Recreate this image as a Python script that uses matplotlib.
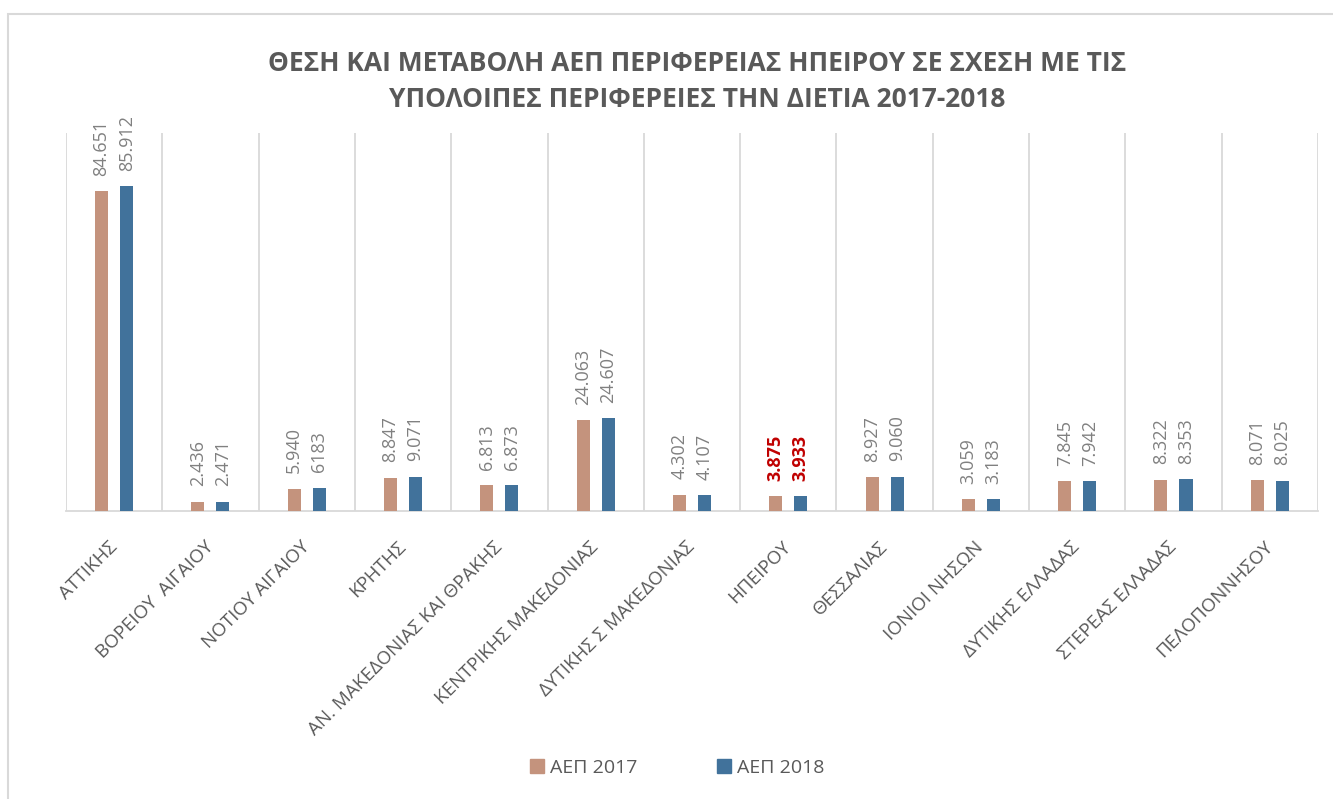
import numpy as np
import matplotlib
matplotlib.use("Agg")
import matplotlib.pyplot as plt
from matplotlib.patches import Patch, Rectangle

plt.rcParams['font.family'] = ['Open Sans', 'DejaVu Sans']

regions = ["ΑΤΤΙΚΗΣ", "ΒΟΡΕΙΟΥ  ΑΙΓΑΙΟΥ", "ΝΟΤΙΟΥ ΑΙΓΑΙΟΥ", "ΚΡΗΤΗΣ",
           "ΑΝ. ΜΑΚΕΔΟΝΙΑΣ ΚΑΙ ΘΡΑΚΗΣ", "ΚΕΝΤΡΙΚΗΣ ΜΑΚΕΔΟΝΙΑΣ",
           "ΔΥΤΙΚΗΣ Σ ΜΑΚΕΔΟΝΙΑΣ", "ΗΠΕΙΡΟΥ", "ΘΕΣΣΑΛΙΑΣ", "ΙΟΝΙΟΙ ΝΗΣΩΝ",
           "ΔΥΤΙΚΗΣ ΕΛΛΑΔΑΣ", "ΣΤΕΡΕΑΣ ΕΛΛΑΔΑΣ", "ΠΕΛΟΠΟΝΝΗΣΟΥ"]
gdp_2017 = [84.651, 2.436, 5.940, 8.847, 6.813, 24.063, 4.302, 3.875,
            8.927, 3.059, 7.845, 8.322, 8.071]
gdp_2018 = [85.912, 2.471, 6.183, 9.071, 6.873, 24.607, 4.107, 3.933,
            9.060, 3.183, 7.942, 8.353, 8.025]
labels_2017 = ["84.651", "2.436", "5.940", "8.847", "6.813", "24.063", "4.302",
               "3.875", "8.927", "3.059", "7.845", "8.322", "8.071"]
labels_2018 = ["85.912", "2.471", "6183", "9.071", "6.873", "24.607", "4.107",
               "3.933", "9.060", "3.183", "7.942", "8.353", "8.025"]
highlight = "ΗΠΕΙΡΟΥ"

title = ("ΘΕΣΗ ΚΑΙ ΜΕΤΑΒΟΛΗ ΑΕΠ ΠΕΡΙΦΕΡΕΙΑΣ ΗΠΕΙΡΟΥ ΣΕ ΣΧΕΣΗ ΜΕ ΤΙΣ\n"
         "ΥΠΟΛΟΙΠΕΣ ΠΕΡΙΦΕΡΕΙΕΣ ΤΗΝ ΔΙΕΤΙΑ 2017-2018")

c2017 = '#c4937d'
c2018 = '#41729b'
grid_c = '#d9d9d9'
text_c = '#595959'
label_c = '#808080'

fig = plt.figure(figsize=(13.33, 7.99), dpi=100)
ax = fig.add_axes([0.0495, 0.3605, 0.9392, 0.473])

# marco del gráfico
fig.patches.append(Rectangle((8 / 1333, -0.1), 1.2, 1 - 14 / 799 + 0.1,
                             transform=fig.transFigure, fill=False,
                             edgecolor=grid_c, lw=1.5))

x = np.arange(len(regions))
w = 0.135
off = 0.13
b1 = ax.bar(x - off, gdp_2017, w, color=c2017, zorder=3)
b2 = ax.bar(x + off, gdp_2018, w, color=c2018, zorder=3)

# etiquetas de valores
for bars, labs in [(b1, labels_2017), (b2, labels_2018)]:
    for i, (rect, lab) in enumerate(zip(bars, labs)):
        if regions[i] == highlight:
            color, weight = '#c00000', 'bold'
        else:
            color, weight = label_c, 'normal'
        ax.annotate(lab, (rect.get_x() + rect.get_width() / 2, rect.get_height()),
                    xytext=(0, 11), textcoords='offset points', rotation=90,
                    ha='center', va='bottom', fontsize=13, color=color,
                    fontweight=weight)

ax.set_xlim(-0.5, len(regions) - 0.5)
ax.set_ylim(0, 100)
ax.set_yticks([])
ax.set_xticks(x)
ax.set_xticklabels(regions, rotation=45, ha='right', va='center',
                   rotation_mode='anchor', fontsize=13.5, color=text_c)
ax.tick_params(axis='x', length=0, pad=24)
ax.set_xticks(np.arange(-0.5, len(regions)), minor=True)
ax.tick_params(axis='x', which='minor', length=0)
ax.grid(which='minor', axis='x', color=grid_c, lw=1.3, zorder=0)

for s in ['top', 'left', 'right']:
    ax.spines[s].set_visible(False)
ax.spines['bottom'].set_color(grid_c)
ax.spines['bottom'].set_linewidth(1.3)

fig.text(0.523, 0.898, title, ha='center', va='center', fontsize=19,
         fontweight='bold', color=text_c, linespacing=1.4)

handles = [Patch(color=c2017, label="ΑΕΠ 2017"), Patch(color=c2018, label="ΑΕΠ 2018")]
fig.legend(handles=handles, loc='center', bbox_to_anchor=(0.508, 0.039), ncol=2,
           frameon=False, fontsize=14, labelcolor=text_c, handlelength=0.72,
           handleheight=0.72, handletextpad=0.3, columnspacing=4.1)

fig.savefig("out.png", dpi=100, facecolor='white')
